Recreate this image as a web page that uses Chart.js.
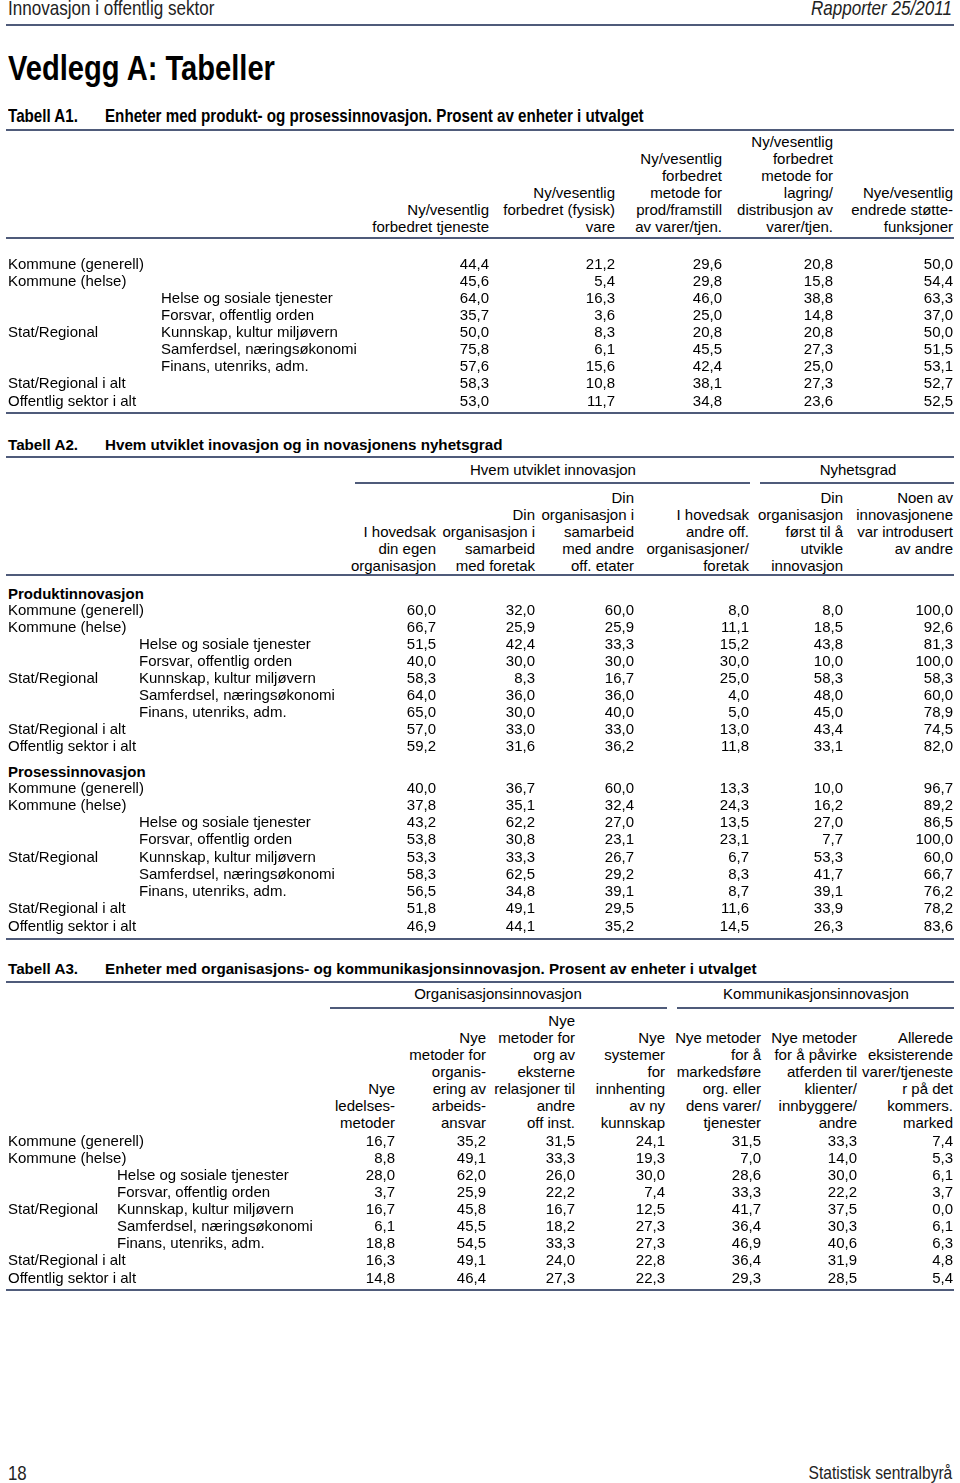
<!DOCTYPE html>
<html>
<head>
<meta charset="utf-8">
<script src="https://cdn.jsdelivr.net/npm/chart.js@4.4.1/dist/chart.umd.min.js"></script>
<style>
  body { margin: 0; background: #fff; }
  #page { position: relative; width: 960px; height: 1483px; overflow: hidden; background: #fff;
          font-family: "Liberation Sans", Arial, sans-serif; color: #000; }
  .t { position: absolute; white-space: nowrap; font-size: 15px; line-height: 17px; }
  .n { display: inline-block; transform: scaleX(0.82); }
  .rule { position: absolute; background: #4f5b7a; }
  canvas { position: absolute; left: 0; }
</style>
</head>
<body>
<div id="page"></div>
<script>
// ---- data ----
const rowLabels = [
  ['Kommune (generell)', ''],
  ['Kommune (helse)', ''],
  ['', 'Helse og sosiale tjenester'],
  ['', 'Forsvar, offentlig orden'],
  ['Stat/Regional', 'Kunnskap, kultur miljøvern'],
  ['', 'Samferdsel, næringsøkonomi'],
  ['', 'Finans, utenriks, adm.'],
  ['Stat/Regional i alt', ''],
  ['Offentlig sektor i alt', '']
];

// Tabell A1
const a1Headers = [
  ['Ny/vesentlig', 'forbedret tjeneste'],
  ['Ny/vesentlig', 'forbedret (fysisk)', 'vare'],
  ['Ny/vesentlig', 'forbedret', 'metode for', 'prod/framstill', 'av varer/tjen.'],
  ['Ny/vesentlig', 'forbedret', 'metode for', 'lagring/', 'distribusjon av', 'varer/tjen.'],
  ['Nye/vesentlig', 'endrede støtte-', 'funksjoner']
];
const a1Tjeneste = [44.4, 45.6, 64.0, 35.7, 50.0, 75.8, 57.6, 58.3, 53.0];
const a1Vare     = [21.2, 5.4, 16.3, 3.6, 8.3, 6.1, 15.6, 10.8, 11.7];
const a1Prod     = [29.6, 29.8, 46.0, 25.0, 20.8, 45.5, 42.4, 38.1, 34.8];
const a1Lagring  = [20.8, 15.8, 38.8, 14.8, 20.8, 27.3, 25.0, 27.3, 23.6];
const a1Stotte   = [50.0, 54.4, 63.3, 37.0, 50.0, 51.5, 53.1, 52.7, 52.5];

// Tabell A2
const a2Groups = ['Hvem utviklet innovasjon', 'Nyhetsgrad'];
const a2Headers = [
  ['I hovedsak', 'din egen', 'organisasjon'],
  ['Din', 'organisasjon i', 'samarbeid', 'med foretak'],
  ['Din', 'organisasjon i', 'samarbeid', 'med andre', 'off. etater'],
  ['I hovedsak', 'andre off.', 'organisasjoner/', 'foretak'],
  ['Din', 'organisasjon', 'først til å', 'utvikle', 'innovasjon'],
  ['Noen av', 'innovasjonene', 'var introdusert', 'av andre']
];
const a2Sections = ['Produktinnovasjon', 'Prosessinnovasjon'];
const a2ProdEgen     = [60.0, 66.7, 51.5, 40.0, 58.3, 64.0, 65.0, 57.0, 59.2];
const a2ProdForetak  = [32.0, 25.9, 42.4, 30.0, 8.3, 36.0, 30.0, 33.0, 31.6];
const a2ProdEtater   = [60.0, 25.9, 33.3, 30.0, 16.7, 36.0, 40.0, 33.0, 36.2];
const a2ProdAndre    = [8.0, 11.1, 15.2, 30.0, 25.0, 4.0, 5.0, 13.0, 11.8];
const a2ProdForst    = [8.0, 18.5, 43.8, 10.0, 58.3, 48.0, 45.0, 43.4, 33.1];
const a2ProdIntro    = [100.0, 92.6, 81.3, 100.0, 58.3, 60.0, 78.9, 74.5, 82.0];
const a2ProsEgen     = [40.0, 37.8, 43.2, 53.8, 53.3, 58.3, 56.5, 51.8, 46.9];
const a2ProsForetak  = [36.7, 35.1, 62.2, 30.8, 33.3, 62.5, 34.8, 49.1, 44.1];
const a2ProsEtater   = [60.0, 32.4, 27.0, 23.1, 26.7, 29.2, 39.1, 29.5, 35.2];
const a2ProsAndre    = [13.3, 24.3, 13.5, 23.1, 6.7, 8.3, 8.7, 11.6, 14.5];
const a2ProsForst    = [10.0, 16.2, 27.0, 7.7, 53.3, 41.7, 39.1, 33.9, 26.3];
const a2ProsIntro    = [96.7, 89.2, 86.5, 100.0, 60.0, 66.7, 76.2, 78.2, 83.6];

// Tabell A3
const a3Groups = ['Organisasjonsinnovasjon', 'Kommunikasjonsinnovasjon'];
const a3Headers = [
  ['Nye', 'ledelses-', 'metoder'],
  ['Nye', 'metoder for', 'organis-', 'ering av', 'arbeids-', 'ansvar'],
  ['Nye', 'metoder for', 'org av', 'eksterne', 'relasjoner til', 'andre', 'off inst.'],
  ['Nye', 'systemer', 'for', 'innhenting', 'av ny', 'kunnskap'],
  ['Nye metoder', 'for å', 'markedsføre', 'org. eller', 'dens varer/', 'tjenester'],
  ['Nye metoder', 'for å påvirke', 'atferden til', 'klienter/', 'innbyggere/', 'andre'],
  ['Allerede', 'eksisterende', 'varer/tjeneste', 'r på det', 'kommers.', 'marked']
];
const a3Ledelse   = [16.7, 8.8, 28.0, 3.7, 16.7, 6.1, 18.8, 16.3, 14.8];
const a3Arbeid    = [35.2, 49.1, 62.0, 25.9, 45.8, 45.5, 54.5, 49.1, 46.4];
const a3Eksterne  = [31.5, 33.3, 26.0, 22.2, 16.7, 18.2, 33.3, 24.0, 27.3];
const a3Systemer  = [24.1, 19.3, 30.0, 7.4, 12.5, 27.3, 27.3, 22.8, 22.3];
const a3Marked    = [31.5, 7.0, 28.6, 33.3, 41.7, 36.4, 46.9, 36.4, 29.3];
const a3Atferd    = [33.3, 14.0, 30.0, 22.2, 37.5, 30.3, 40.6, 31.9, 28.5];
const a3Allerede  = [7.4, 5.3, 6.1, 3.7, 0.0, 6.1, 6.3, 4.8, 5.4];

// ---- layout ----
const page = document.getElementById('page');
const LH = 17;

function txt(x, y, s, o) {
  o = o || {};
  const d = document.createElement('div');
  d.className = 't';
  const fs = o.size || 15;
  d.style.fontSize = fs + 'px';
  d.style.lineHeight = (o.lh || LH) + 'px';
  if (o.bold) d.style.fontWeight = 'bold';
  if (o.italic) d.style.fontStyle = 'italic';
  if (o.color) d.style.color = o.color;
  const lines = Array.isArray(s) ? s : [s];
  const lh = o.lh || LH;
  d.style.top = (y - (lines.length - 1) * lh - lh / 2) + 'px';
  const html = lines.join('<br>');
  if (o.narrow) {
    d.innerHTML = '<span class="n" style="transform-origin:' + (o.align === 'right' ? 'right' : 'left') + ' center">' + html + '</span>';
  } else {
    d.innerHTML = html;
  }
  if (o.align === 'right') { d.style.right = (960 - x) + 'px'; d.style.textAlign = 'right'; }
  else if (o.align === 'center') { d.style.left = (x - 300) + 'px'; d.style.width = '600px'; d.style.textAlign = 'center'; }
  else d.style.left = x + 'px';
  page.appendChild(d);
}

function rule(x1, x2, y, h) {
  const r = document.createElement('div');
  r.className = 'rule';
  r.style.left = x1 + 'px';
  r.style.width = (x2 - x1) + 'px';
  r.style.top = (y - h / 2) + 'px';
  r.style.height = h + 'px';
  page.appendChild(r);
}

const fmt = v => v.toFixed(1).replace('.', ',');

// one Chart.js chart per table body; cells drawn at scale positions
function tableChart(top, rowH, cols, edges, subX) {
  const n = rowLabels.length;
  const c = document.createElement('canvas');
  c.width = 960;
  c.height = Math.round(n * rowH);
  c.style.top = top + 'px';
  c.style.width = '960px';
  c.style.height = c.height + 'px';
  page.appendChild(c);

  const cellText = {
    id: 'cellText',
    afterDatasetsDraw(chart) {
      const ctx = chart.ctx;
      const y = chart.scales.y;
      ctx.save();
      ctx.fillStyle = '#000';
      ctx.font = '15px "Liberation Sans", Arial, sans-serif';
      ctx.textBaseline = 'middle';
      ctx.textAlign = 'left';
      rowLabels.forEach((lab, i) => {
        const py = y.getPixelForValue(i);
        if (lab[0]) ctx.fillText(lab[0], 8, py);
        if (lab[1]) ctx.fillText(lab[1], subX, py);
      });
      ctx.textAlign = 'right';
      chart.data.datasets.forEach((ds, d) => {
        chart.getDatasetMeta(d).data.forEach((pt, i) => {
          ctx.fillText(fmt(ds.data[i].v), pt.x, pt.y);
        });
      });
      ctx.restore();
    }
  };

  new Chart(c.getContext('2d'), {
    type: 'scatter',
    data: {
      datasets: cols.map((vals, k) => ({
        data: vals.map((v, i) => ({ x: edges[k], y: i, v: v })),
        pointRadius: 0,
        pointHoverRadius: 0
      }))
    },
    options: {
      responsive: false,
      animation: false,
      events: [],
      layout: { padding: 0 },
      plugins: { legend: { display: false }, tooltip: { enabled: false } },
      scales: {
        x: { type: 'linear', display: false, min: 0, max: 960 },
        y: { type: 'linear', display: false, min: -0.5, max: n - 0.5, reverse: true }
      }
    },
    plugins: [cellText]
  });
}

function headers(list, edges, bottoms) {
  list.forEach((lines, k) => txt(edges[k], bottoms[k], lines, { align: 'right' }));
}

// page header
txt(8, 8, 'Innovasjon i offentlig sektor', { size: 20.8, narrow: true, color: '#222', lh: 20 });
txt(952, 8, 'Rapporter 25/2011', { size: 20.8, narrow: true, italic: true, color: '#222', lh: 20, align: 'right' });
rule(6, 954, 25, 1.5);
txt(8, 68, 'Vedlegg A: Tabeller', { size: 35.5, bold: true, narrow: true, lh: 35 });

// Tabell A1
txt(8, 116, 'Tabell A1.', { size: 18.5, bold: true, narrow: true, lh: 18 });
txt(105, 116, 'Enheter med produkt- og prosessinnovasjon. Prosent av enheter i utvalget', { size: 18.5, bold: true, narrow: true, lh: 18 });
rule(6, 954, 129.5, 2);
const a1Edges = [489, 615, 722, 833, 953];
headers(a1Headers, a1Edges, [226.5, 226.5, 226.5, 226.5, 226.5]);
rule(6, 954, 237.5, 2);
tableChart(255.6, 17.15, [a1Tjeneste, a1Vare, a1Prod, a1Lagring, a1Stotte], a1Edges, 161);
rule(6, 954, 412.5, 2);

// Tabell A2
txt(8, 444, 'Tabell A2.', { bold: true, size: 15.2 });
txt(105, 444, 'Hvem utviklet inovasjon og in novasjonens nyhetsgrad', { bold: true, size: 15.2 });
rule(6, 954, 457, 2);
txt(553, 469, a2Groups[0], { align: 'center' });
txt(858, 469, a2Groups[1], { align: 'center' });
rule(355, 750, 483, 1.5);
rule(760, 954, 483, 1.5);
const a2Edges = [436, 535, 634, 749, 843, 953];
headers(a2Headers, a2Edges, [565, 565, 565, 565, 565, 548]);
rule(6, 954, 575, 2);
txt(8, 593, a2Sections[0], { bold: true });
tableChart(601.5, 17.05, [a2ProdEgen, a2ProdForetak, a2ProdEtater, a2ProdAndre, a2ProdForst, a2ProdIntro], a2Edges, 139);
txt(8, 771, a2Sections[1], { bold: true });
tableChart(779.6, 17.2, [a2ProsEgen, a2ProsForetak, a2ProsEtater, a2ProsAndre, a2ProsForst, a2ProsIntro], a2Edges, 139);
rule(6, 954, 938.5, 2);

// Tabell A3
txt(8, 968, 'Tabell A3.', { bold: true, size: 15.2 });
txt(105, 968, 'Enheter med organisasjons- og kommunikasjonsinnovasjon. Prosent av enheter i utvalget', { bold: true, size: 15.2 });
rule(6, 954, 982, 2);
txt(498, 993, a3Groups[0], { align: 'center' });
txt(816, 993, a3Groups[1], { align: 'center' });
rule(330, 667, 1008, 1.5);
rule(677, 954, 1008, 1.5);
const a3Edges = [395, 486, 575, 665, 761, 857, 953];
headers(a3Headers, a3Edges, [1122.5, 1122.5, 1122.5, 1122.5, 1122.5, 1122.5, 1122.5]);
tableChart(1133, 17.15, [a3Ledelse, a3Arbeid, a3Eksterne, a3Systemer, a3Marked, a3Atferd, a3Allerede], a3Edges, 117);
rule(6, 954, 1290, 2);

// footer
txt(8, 1473, '18', { size: 20.5, narrow: true, color: '#222', lh: 20 });
txt(952, 1473, 'Statistisk sentralbyrå', { size: 19, narrow: true, color: '#222', lh: 20, align: 'right' });
</script>
</body>
</html>
